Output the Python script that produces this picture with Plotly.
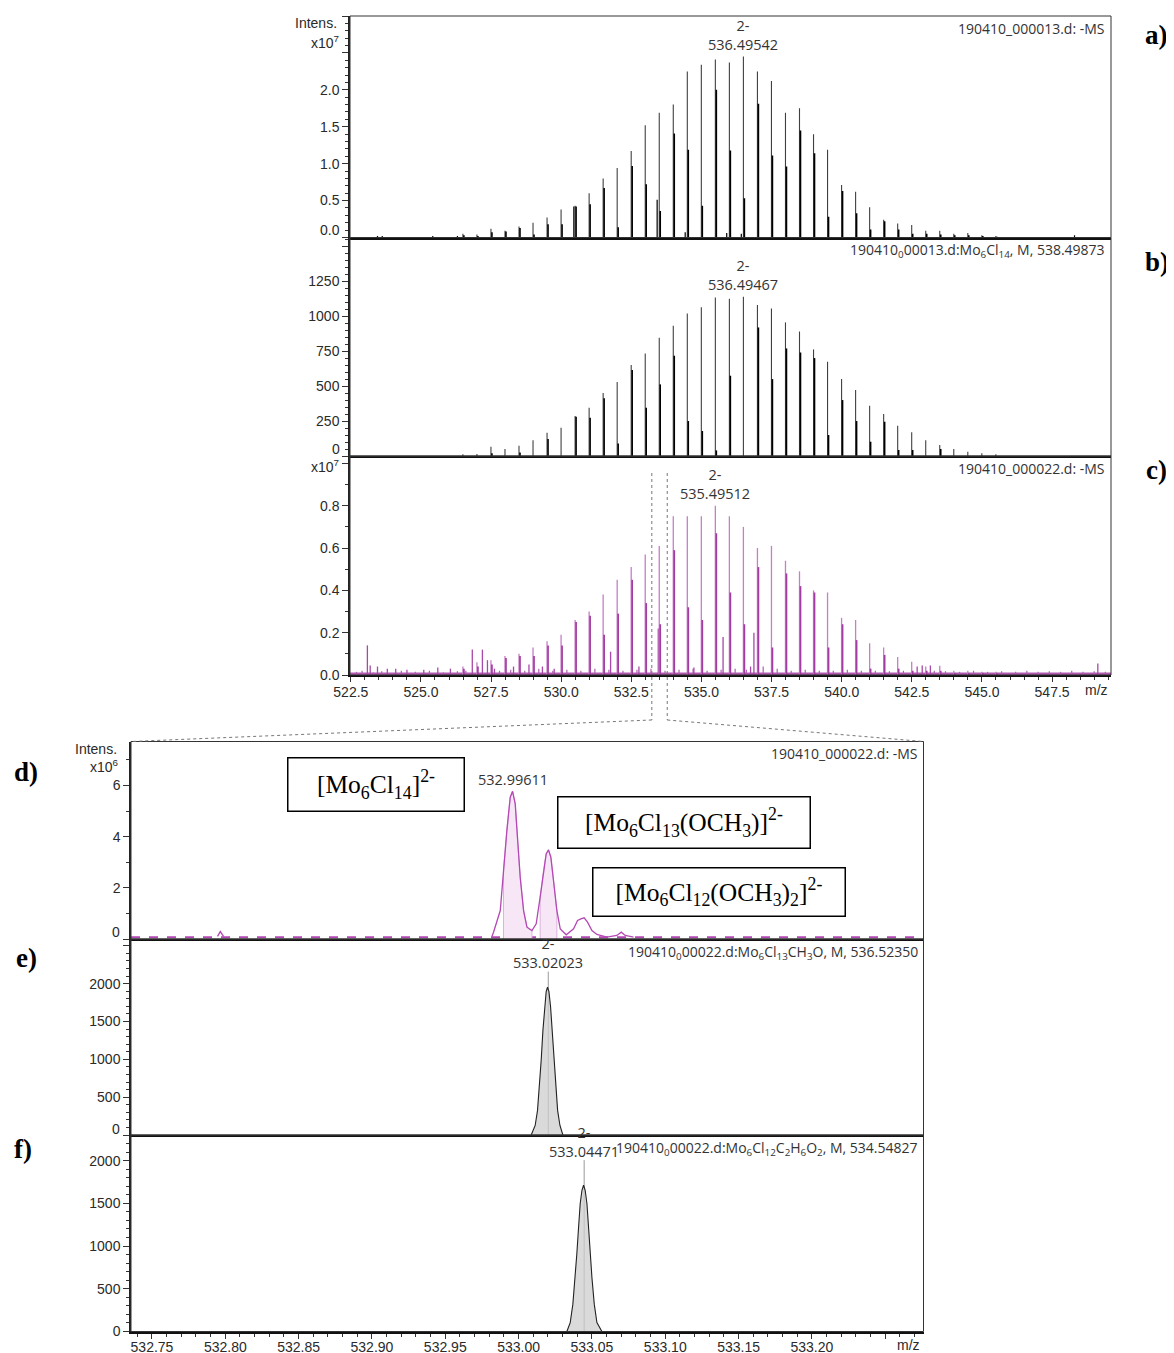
import plotly.graph_objects as go

# The page body adds an 8 px margin, so the figure is drawn 8 px smaller and every
# reference pixel position is mapped with that offset.
REF_W, REF_H = 1174, 1353
OFF = 8
W, H = REF_W - OFF, REF_H - OFF

# ------------------------------------------------------------------ data
# Isotope-envelope positions (m/z) shared by panels a, b, c
env_mz = [526.495, 526.995, 527.495, 527.995, 528.495, 528.995, 529.495, 529.995,
          530.495, 530.995, 531.495, 531.995, 532.495, 532.995, 533.495, 533.995,
          534.495, 534.995, 535.495, 535.995, 536.495, 536.995, 537.495, 537.995,
          538.495, 538.995, 539.495, 539.995, 540.495, 540.995, 541.495, 541.995,
          542.495, 542.995, 543.495, 543.995, 544.495, 544.995, 545.495]

# a) 190410_000013.d: -MS  (x1e7)
a_main = [0.05, 0.04, 0.12, 0.09, 0.15, 0.20, 0.27, 0.38,
          0.43, 0.60, 0.80, 0.94, 1.17, 1.52, 1.69, 1.80,
          2.25, 2.34, 2.41, 2.37, 2.45, 2.25, 2.12, 1.69,
          1.75, 1.40, 1.19, 0.71, 0.62, 0.41, 0.24, 0.19,
          0.17, 0.09, 0.09, 0.05, 0.06, 0.03, 0.02]
a_side = [0.03, 0.02, 0.07, 0.08, 0.13, 0.04, 0.18, 0.18,
          0.42, 0.45, 0.67, 0.14, 0.97, 0.72, 0.36, 1.41,
          1.19, 0.43, 2.00, 1.18, 0.53, 1.81, 1.11, 0.96,
          1.45, 1.14, 0.28, 0.63, 0.33, 0.11, 0.22, 0.11,
          0.05, 0.05, 0.04, 0.03, 0.03, 0.02, 0.01]
a_extra_mz = [523.45, 523.62, 525.42, 526.3, 530.45, 533.42, 534.42, 535.9, 536.42, 548.3]
a_extra_h = [0.02, 0.02, 0.02, 0.02, 0.42, 0.51, 0.07, 0.06, 0.05, 0.03]

# b) simulated Mo6Cl14, M, 538.49873
b_main = [12, 14, 67, 50, 74, 112, 167, 202,
          286, 345, 450, 529, 650, 733, 845, 931,
          1019, 1064, 1133, 1124, 1138, 1079, 1055, 955,
          890, 762, 674, 550, 471, 360, 300, 217,
          169, 112, 79, 50, 31, 19, 12]
b_side = [0, 0, 20, 0, 25, 0, 121, 0,
          280, 274, 412, 90, 614, 345, 512, 717,
          250, 179, 40, 574, 0, 919, 550, 769,
          740, 700, 150, 400, 250, 102, 245, 43,
          43, 0, 50, 0, 0, 0, 0]

# c) 190410_000022.d: -MS  (x1e7)
c_main = [0.04, 0.06, 0.07, 0.09, 0.10, 0.13, 0.16, 0.19,
          0.26, 0.30, 0.38, 0.45, 0.51, 0.57, 0.61, 0.75,
          0.75, 0.75, 0.80, 0.75, 0.70, 0.60, 0.61, 0.54,
          0.49, 0.40, 0.39, 0.27, 0.26, 0.15, 0.13, 0.085,
          0.063, 0.04, 0.044, 0.02, 0.02, 0.015, 0.015]
c_side = [0.03, 0.04, 0.05, 0.08, 0.09, 0.09, 0.14, 0.14,
          0.25, 0.28, 0.19, 0.29, 0.45, 0.34, 0.24, 0.59,
          0.32, 0.26, 0.67, 0.39, 0.24, 0.51, 0.13, 0.48,
          0.42, 0.39, 0.13, 0.24, 0.165, 0.03, 0.095, 0.03,
          0.02, 0.02, 0.02, 0.01, 0.01, 0.01, 0.01]
c_extra_mz = [523.09, 523.19, 523.45, 523.80, 524.10, 524.50, 525.10, 525.60, 526.05, 526.83,
              527.19, 527.37, 527.62, 528.30, 528.85, 529.33, 529.75, 531.76, 532.77, 533.46,
              534.73, 535.77, 536.75, 536.87, 542.69, 542.87, 543.16, 549.13]
c_extra_h = [0.14, 0.045, 0.04, 0.03, 0.03, 0.025, 0.025, 0.035, 0.03, 0.12,
             0.12, 0.07, 0.03, 0.04, 0.05, 0.04, 0.03, 0.11, 0.04, 0.22,
             0.035, 0.18, 0.04, 0.20, 0.04, 0.045, 0.045, 0.054]
c_noise_mz = [522.7, 522.9, 523.3, 523.6, 524.3, 524.8, 525.3, 525.8, 526.3, 526.6,
              527.8, 528.2, 528.7, 529.2, 529.7, 530.2, 530.7, 531.2, 531.7, 532.2,
              532.7, 533.2, 533.7, 534.2, 534.7, 535.2, 535.7, 536.2, 536.6, 537.2,
              537.7, 538.2, 538.7, 539.2, 539.7, 540.2, 540.7, 541.2, 541.7, 542.2,
              543.3, 543.7, 544.2, 544.7, 545.2, 545.7, 546.2, 546.6, 547.0, 547.4,
              547.8, 548.2, 548.6, 549.0, 549.4]
c_noise_h = [0.015, 0.02, 0.012, 0.018, 0.02, 0.015, 0.02, 0.012, 0.018, 0.02,
             0.02, 0.025, 0.02, 0.03, 0.02, 0.025, 0.02, 0.03, 0.025, 0.02,
             0.025, 0.03, 0.02, 0.025, 0.03, 0.02, 0.025, 0.03, 0.025, 0.04,
             0.03, 0.02, 0.025, 0.02, 0.02, 0.025, 0.02, 0.02, 0.018, 0.02,
             0.02, 0.018, 0.015, 0.02, 0.015, 0.018, 0.015, 0.02, 0.015, 0.018,
             0.015, 0.02, 0.015, 0.018, 0.015]
c_noise_floor = 0.006
zoom_window_mz = [533.23, 533.78]

# d) zoom of 190410_000022.d: -MS  (x1e6), profile
d_mz = [532.9818, 532.9829, 532.9875, 532.9897, 532.9920, 532.9943, 532.9959, 532.9977,
        532.9993, 533.0011, 533.0034, 533.0057, 533.0091, 533.0120, 533.0147, 533.0170,
        533.0188, 533.0204, 533.0220, 533.0238, 533.0261, 533.0284, 533.0325, 533.0375,
        533.0402, 533.0425, 533.0447, 533.0470, 533.0500, 533.0534, 533.0602, 533.0670,
        533.0700, 533.0727, 533.0784]
d_int = [0.10, 0.267, 1.113, 2.676, 4.238, 5.540, 5.775, 5.280,
         3.848, 2.415, 1.113, 0.462, 0.332, 0.592, 1.634, 2.676,
         3.327, 3.483, 3.197, 2.285, 1.113, 0.397, 0.163, 0.397,
         0.723, 0.788, 0.827, 0.657, 0.332, 0.176, 0.072, 0.137,
         0.267, 0.137, 0.072]
d_fill_ranges = [(532.9897, 533.0091), (533.0147, 533.0261)]
d_bump_mz = [532.7947, 532.7966, 532.7988]
d_bump_int = [0.10, 0.29, 0.10]
d_baseline = 0.07

# e) simulated Mo6Cl13CH3O
e_mz = [533.0086, 533.0113, 533.0129, 533.0143, 533.0154, 533.0166, 533.0177, 533.0188, 533.0197,
        533.0207, 533.0218, 533.0229, 533.0241, 533.0252, 533.0266, 533.0282, 533.0302]
e_int = [0, 126, 325, 634, 988, 1386, 1695, 1894, 1952, 1894, 1695, 1386, 988, 634, 325, 126, 0]
e_label_mz, e_marker_top = 533.02023, 2160

# f) simulated Mo6Cl12C2H6O2
f_mz = [533.0329, 533.0352, 533.0370, 533.0386, 533.0397, 533.0409, 533.0420, 533.0432, 533.0443,
        533.0454, 533.0466, 533.0477, 533.0488, 533.0500, 533.0516, 533.0534, 533.0568]
f_int = [0, 104, 320, 633, 908, 1221, 1496, 1653, 1712, 1653, 1496, 1221, 908, 633, 320, 104, 0]
f_label_mz, f_marker_top = 533.04471, 2006

# tick labels
top_xticks = [522.5, 525.0, 527.5, 530.0, 532.5, 535.0, 537.5, 540.0, 542.5, 545.0, 547.5]
bot_xticks = [532.75, 532.80, 532.85, 532.90, 532.95, 533.00, 533.05, 533.10, 533.15, 533.20, 533.25]
bot_xtext = ['532.75', '532.80', '532.85', '532.90', '532.95', '533.00', '533.05', '533.10',
             '533.15', '533.20', '']

# ------------------------------------------------------------------ layout helpers
def PX(x):
    return (x - OFF) / W


def PY(y):
    return 1 - (y - OFF) / H


TOP_X = (350, 1111)
BOT_X = (131, 923.5)
TOP_RANGE = [522.47, 549.6]
BOT_RANGE = [532.7357, 533.2761]
PANELS = {  # name: (xpix, ypix top/bottom, axis index)
    'a': (TOP_X, (16, 237.5), 1), 'b': (TOP_X, (237.5, 456), 2), 'c': (TOP_X, (456, 675), 3),
    'd': (BOT_X, (741.5, 939), 4), 'e': (BOT_X, (939, 1135), 5), 'f': (BOT_X, (1135, 1331.5), 6)}

TICKFONT = dict(family='Liberation Sans, Arial, sans-serif', size=14, color='#2a2a2a')
LBLFONT = dict(family='Open Sans, sans-serif', size=14, color='#333333')
PKFONT = dict(family='Open Sans, sans-serif', size=14.5, color='#333333')

fig = go.Figure()


def axn(ax, letter):
    return letter + ('' if ax == 1 else str(ax))


def sticks(mz, h, offset=0.0):
    xs, ys = [], []
    for m, v in zip(mz, h):
        if v <= 0:
            continue
        xs += [m + offset, m + offset, None]
        ys += [0, v, None]
    return xs, ys


def add_sticks(ax, mz, h, color, width, offset=0.0):
    xs, ys = sticks(mz, h, offset)
    fig.add_trace(go.Scatter(x=xs, y=ys, mode='lines', line=dict(color=color, width=width),
                             xaxis=axn(ax, 'x'), yaxis=axn(ax, 'y'),
                             hoverinfo='skip', showlegend=False))


SIDE_OFF = 0.035
# a
add_sticks(1, env_mz, a_main, '#404040', 1.1)
add_sticks(1, env_mz, a_side, '#000000', 1.6, SIDE_OFF)
add_sticks(1, a_extra_mz, a_extra_h, '#000000', 1.2)
# b
add_sticks(2, env_mz, b_main, '#404040', 1.1)
add_sticks(2, env_mz, b_side, '#000000', 1.6, SIDE_OFF)
# c
fig.add_trace(go.Scatter(x=TOP_RANGE, y=[c_noise_floor] * 2, mode='lines',
                         line=dict(color='#B05AB0', width=2.5), xaxis='x3', yaxis='y3',
                         hoverinfo='skip', showlegend=False))
add_sticks(3, c_noise_mz, c_noise_h, '#B060B0', 1.2)
add_sticks(3, c_extra_mz, c_extra_h, '#A848A8', 1.3)
add_sticks(3, env_mz, c_main, '#C67EC6', 1.3)
add_sticks(3, env_mz, c_side, '#A23CA2', 1.7, SIDE_OFF)

# d
MAG = '#B448B4'
fig.add_trace(go.Scatter(x=BOT_RANGE, y=[d_baseline] * 2, mode='lines',
                         line=dict(color=MAG, width=2, dash='dash'), xaxis='x4', yaxis='y4',
                         hoverinfo='skip', showlegend=False))
for lo, hi in d_fill_ranges:
    pts = [(m, v) for m, v in zip(d_mz, d_int) if lo <= m <= hi]
    xs = [pts[0][0]] + [p[0] for p in pts] + [pts[-1][0]]
    ys = [0] + [p[1] for p in pts] + [0]
    fig.add_trace(go.Scatter(x=xs, y=ys, mode='lines', fill='toself', fillcolor='#F6E6F6',
                             line=dict(color='#DDB2DD', width=1), xaxis='x4', yaxis='y4',
                             hoverinfo='skip', showlegend=False))
fig.add_trace(go.Scatter(x=d_mz, y=d_int, mode='lines', line=dict(color=MAG, width=1.3),
                         xaxis='x4', yaxis='y4', hoverinfo='skip', showlegend=False))
fig.add_trace(go.Scatter(x=d_bump_mz, y=d_bump_int, mode='lines', line=dict(color=MAG, width=1.3),
                         xaxis='x4', yaxis='y4', hoverinfo='skip', showlegend=False))

# e, f
for ax, mz, it, lmz, top in [(5, e_mz, e_int, e_label_mz, e_marker_top),
                             (6, f_mz, f_int, f_label_mz, f_marker_top)]:
    fig.add_trace(go.Scatter(x=[lmz, lmz], y=[0, top], mode='lines',
                             line=dict(color='#9a9a9a', width=1),
                             xaxis=axn(ax, 'x'), yaxis=axn(ax, 'y'), hoverinfo='skip',
                             showlegend=False))
    fig.add_trace(go.Scatter(x=mz, y=it, mode='lines', fill='toself', fillcolor='rgba(205,205,205,0.75)',
                             line=dict(color='#222222', width=1.1),
                             xaxis=axn(ax, 'x'), yaxis=axn(ax, 'y'), hoverinfo='skip',
                             showlegend=False))

# ------------------------------------------------------------------ axes
layout = dict(width=W, height=H, margin=dict(l=0, r=0, t=0, b=0, pad=0, autoexpand=False),
              autosize=False, template='none',
              paper_bgcolor='white', plot_bgcolor='white', showlegend=False)

y_cfg = {
    1: dict(range=[0, 3.0], tickvals=[0, 0.5, 1.0, 1.5, 2.0, 2.5, 3.0],
            ticktext=['', '0.5', '1.0', '1.5', '2.0', '', ''], minor=0.1),
    2: dict(range=[0, 1562], tickvals=[0, 250, 500, 750, 1000, 1250, 1500],
            ticktext=['', '250', '500', '750', '1000', '1250', ''], minor=50),
    3: dict(range=[0, 1.035], tickvals=[0, 0.2, 0.4, 0.6, 0.8, 1.0],
            ticktext=['0.0', '0.2', '0.4', '0.6', '0.8', ''], minor=0.1),
    4: dict(range=[0, 7.72], tickvals=[0, 2, 4, 6], ticktext=['', '2', '4', '6'], minor=1),
    5: dict(range=[0, 2590], tickvals=[0, 500, 1000, 1500, 2000, 2500],
            ticktext=['', '500', '1000', '1500', '2000', ''], minor=100),
    6: dict(range=[0, 2300], tickvals=[0, 500, 1000, 1500, 2000],
            ticktext=['0', '500', '1000', '1500', '2000'], minor=100),
}

shapes = []
for name, (xp, yp, ax) in PANELS.items():
    xdom = [PX(xp[0]), PX(xp[1])]
    ydom = [PY(yp[1]), PY(yp[0])]
    top = ax <= 3
    xa = dict(domain=xdom, range=TOP_RANGE if top else BOT_RANGE, anchor=axn(ax, 'y'),
              showline=True, linecolor='#111111', linewidth=2, showgrid=False, zeroline=False,
              fixedrange=True, tickfont=TICKFONT, automargin=False)
    if ax == 3:
        xa.update(tickmode='array', tickvals=top_xticks, ticktext=['%.1f' % v for v in top_xticks],
                  ticks='outside', ticklen=5, tickcolor='#333', ticklabelstandoff=-2,
                  minor=dict(tickmode='linear', tick0=522.5, dtick=0.5, ticks='outside',
                             ticklen=3, tickcolor='#333'))
    elif ax == 6:
        xa.update(tickmode='array', tickvals=bot_xticks, ticktext=bot_xtext,
                  ticks='outside', ticklen=5, tickcolor='#333', ticklabelstandoff=-3,
                  minor=dict(tickmode='linear', tick0=532.75, dtick=0.01, ticks='outside',
                             ticklen=3, tickcolor='#333'))
    else:
        xa.update(showticklabels=False, ticks='')
    cfg = y_cfg[ax]
    ya = dict(domain=ydom, range=cfg['range'], anchor=axn(ax, 'x'), tickmode='array',
              tickvals=cfg['tickvals'], ticktext=cfg['ticktext'], ticks='outside', ticklen=6,
              tickcolor='#333', tickfont=TICKFONT, showline=True, linecolor='#222222',
              linewidth=1.5, showgrid=False, zeroline=False, fixedrange=True, automargin=False,
              minor=dict(tickmode='linear', tick0=0, dtick=cfg['minor'], ticks='outside',
                         ticklen=3, tickcolor='#333'))
    layout[('xaxis' if ax == 1 else 'xaxis%d' % ax)] = xa
    layout[('yaxis' if ax == 1 else 'yaxis%d' % ax)] = ya
    shapes.append(dict(type='rect', xref=axn(ax, 'x') + ' domain', yref=axn(ax, 'y') + ' domain',
                       x0=0, x1=1, y0=0, y1=1, line=dict(color='#333333', width=1), layer='above'))

# zoom indicator dotted lines (c -> d)
cx0, cx1 = PX(TOP_X[0]), PX(TOP_X[1])


def c_paper(m):
    return cx0 + (m - TOP_RANGE[0]) / (TOP_RANGE[1] - TOP_RANGE[0]) * (cx1 - cx0)


dot = dict(color='#777777', width=1, dash='dot')
for m, corner in zip(zoom_window_mz, [BOT_X[0], BOT_X[1]]):
    xp = c_paper(m)
    shapes.append(dict(type='line', xref='paper', yref='paper', x0=xp, x1=xp,
                       y0=PY(473), y1=PY(720), line=dot))
    shapes.append(dict(type='line', xref='paper', yref='paper', x0=xp, x1=PX(corner),
                       y0=PY(720), y1=PY(741.5), line=dot))
layout['shapes'] = shapes

# ------------------------------------------------------------------ annotations
ann = []


def A(**kw):
    d = dict(showarrow=False)
    d.update(kw)
    ann.append(d)


# header labels
headers = {1: '190410_000013.d: -MS',
           2: '190410<sub>0</sub>00013.d:Mo<sub>6</sub>Cl<sub>14</sub>, M, 538.49873',
           3: '190410_000022.d: -MS',
           4: '190410_000022.d: -MS',
           5: '190410<sub>0</sub>00022.d:Mo<sub>6</sub>Cl<sub>13</sub>CH<sub>3</sub>O, M, 536.52350',
           6: '190410<sub>0</sub>00022.d:Mo<sub>6</sub>Cl<sub>12</sub>C<sub>2</sub>H<sub>6</sub>O<sub>2</sub>, M, 534.54827'}
for ax, t in headers.items():
    A(text=t, xref=axn(ax, 'x') + ' domain', yref=axn(ax, 'y') + ' domain', x=1, y=1,
      xanchor='right', yanchor='top', xshift=-4, yshift=-1, font=LBLFONT)

# peak labels
A(text='2-<br>536.49542', xref='x', yref='y', x=536.495, y=max(a_main), yanchor='bottom',
  yshift=1, font=PKFONT)
A(text='2-<br>536.49467', xref='x2', yref='y2', x=536.495, y=max(b_main), yanchor='bottom',
  yshift=1, font=PKFONT)
A(text='2-<br>535.49512', xref='x3', yref='y3', x=535.495, y=max(c_main), yanchor='bottom',
  yshift=1, font=PKFONT)
A(text='532.99611', xref='x4', yref='y4', x=532.99611, y=max(d_int), yanchor='bottom',
  yshift=0, font=PKFONT)
A(text='2-<br>533.02023', xref='x5', yref='y5', x=e_label_mz, y=e_marker_top, yanchor='bottom',
  yshift=-2, font=PKFONT)
A(text='2-<br>533.04471', xref='x6', yref='y6', x=f_label_mz, y=f_marker_top, yanchor='bottom',
  yshift=-3, font=PKFONT)

# nudged zero labels and intensity titles
for ax, txt, xr, sh in [(1, '0.0', 342, 7), (2, '0', 342, 7.5), (4, '0', 122, 6.5), (5, '0', 122, 6.5)]:
    A(text=txt, xref='paper', yref=axn(ax, 'y'), x=PX(xr), y=0, xanchor='right',
      yanchor='middle', yshift=sh, font=TICKFONT)
A(text='Intens.', xref='paper', yref='paper', x=PX(339), y=PY(23), xanchor='right',
  yanchor='middle', font=TICKFONT)
A(text='x10<sup>7</sup>', xref='paper', yref='paper', x=PX(341), y=PY(42), xanchor='right',
  yanchor='middle', font=TICKFONT)
A(text='x10<sup>7</sup>', xref='paper', yref='paper', x=PX(341), y=PY(466), xanchor='right',
  yanchor='middle', font=TICKFONT)
A(text='Intens.', xref='paper', yref='paper', x=PX(119), y=PY(749), xanchor='right',
  yanchor='middle', font=TICKFONT)
A(text='x10<sup>6</sup>', xref='paper', yref='paper', x=PX(121), y=PY(766), xanchor='right',
  yanchor='middle', font=TICKFONT)
A(text='m/z', xref='paper', yref='paper', x=PX(1096), y=PY(690), xanchor='center',
  yanchor='middle', font=TICKFONT)
A(text='m/z', xref='paper', yref='paper', x=PX(908), y=PY(1345), xanchor='center',
  yanchor='middle', font=TICKFONT)

# panel letters
LETTER = dict(family='Liberation Serif, Times New Roman, serif', size=27, color='black')
for t, x, y in [('a)', 1156, 35), ('b)', 1157, 262), ('c)', 1156, 470),
                ('d)', 26, 772), ('e)', 26, 958), ('f)', 23, 1149)]:
    A(text='<b>%s</b>' % t, xref='paper', yref='paper', x=PX(x), y=PY(y), xanchor='center',
      yanchor='middle', font=LETTER)

# species boxes
BOXFONT = dict(family='Liberation Serif, Times New Roman, serif', size=25.5, color='black')
for t, x0, x1, y0, y1 in [
        ('[Mo<sub>6</sub>Cl<sub>14</sub>]<sup>2-</sup>', 287, 464, 757, 811),
        ('[Mo<sub>6</sub>Cl<sub>13</sub>(OCH<sub>3</sub>)]<sup>2-</sup>', 557, 810, 797, 849),
        ('[Mo<sub>6</sub>Cl<sub>12</sub>(OCH<sub>3</sub>)<sub>2</sub>]<sup>2-</sup>', 592, 845, 867, 916)]:
    A(text=t, xref='paper', yref='paper', x=PX((x0 + x1) / 2), y=PY((y0 + y1) / 2),
      xanchor='center', yanchor='middle', width=x1 - x0 - 2, height=y1 - y0 - 2,
      borderpad=0, bordercolor='black', borderwidth=1.5, bgcolor='rgba(0,0,0,0)',
      font=BOXFONT, align='center', valign='middle')

layout['annotations'] = ann
fig.update_layout(**layout)
fig.write_html('out.html')
